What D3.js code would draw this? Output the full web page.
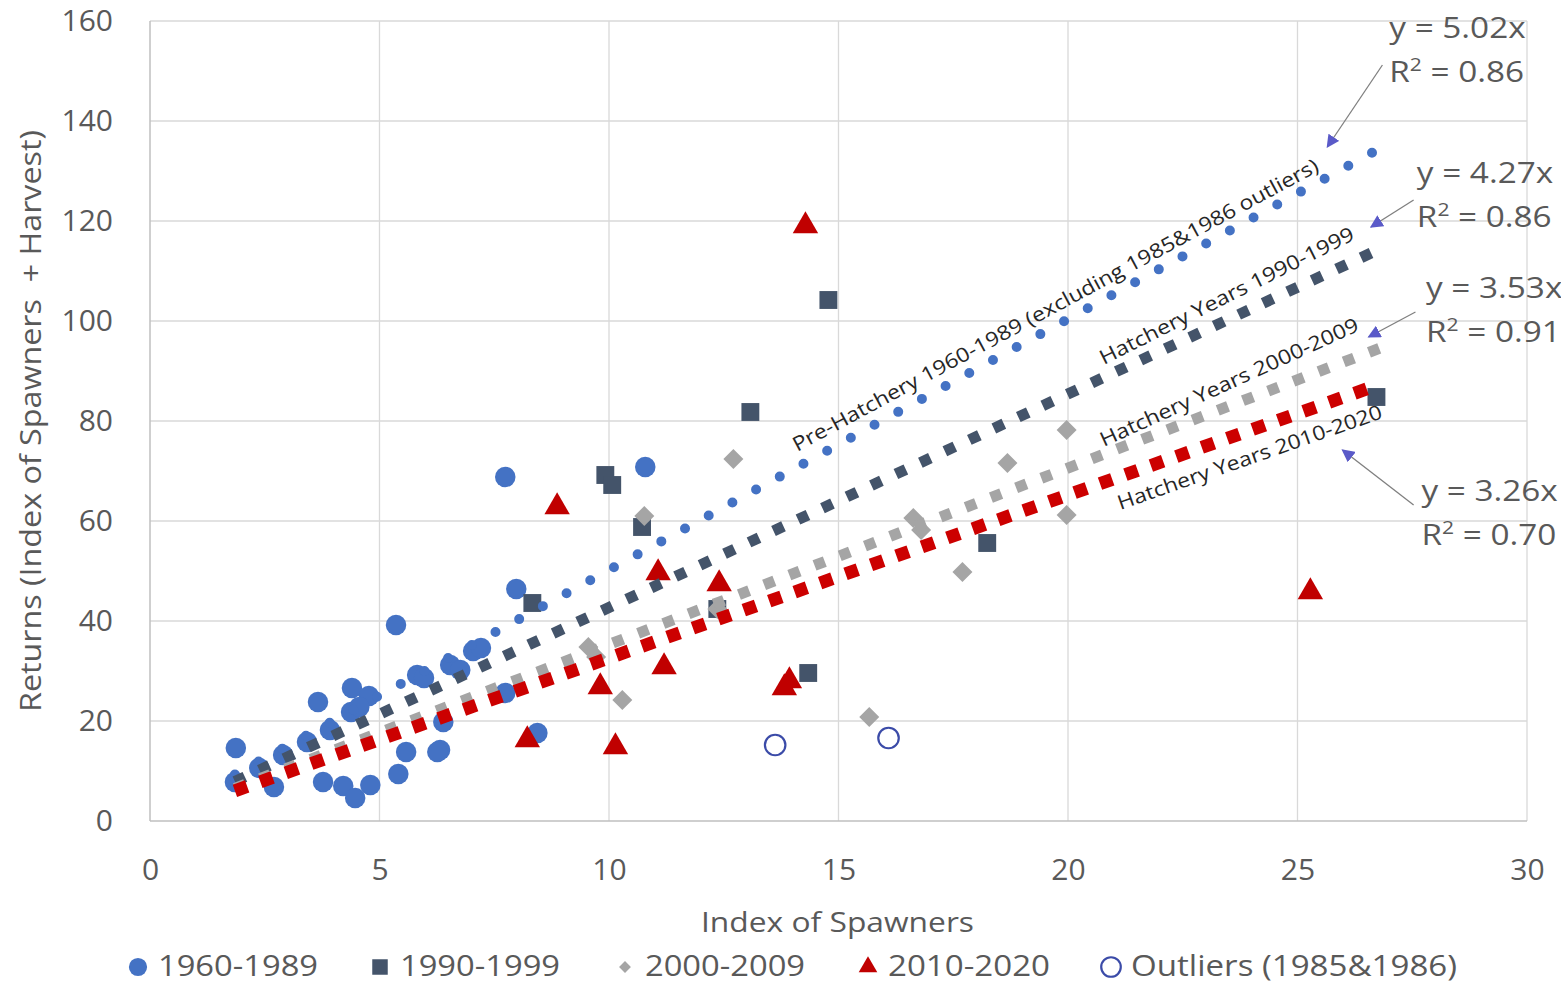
<!DOCTYPE html>
<html><head><meta charset="utf-8">
<script src="https://cdn.jsdelivr.net/npm/d3@7"></script>
<style>
html,body{margin:0;padding:0;background:#fff;}
text{font-family:"Open Sans",sans-serif;fill:#595959;}
</style></head>
<body>
<svg id="chart" width="1561" height="984"></svg>
<script>
// ---- data (x = Index of Spawners, y = Returns) ----
const seriesNames = ["1960-1989","1990-1999","2000-2009","2010-2020","Outliers (1985&1986)"];
const pre1960x = [7.74,10.79,7.98,7.04,7.21,6.54,6.76,7.74,8.44,6.32,6.39,3.66,1.87,1.85,2.38,2.70,2.90,3.42,3.77,5.36,4.40,4.77,4.38,4.56,3.92,5.82,5.97,5.58,6.26,5.41,4.21,4.47,4.80];
const pre1960y = [68.8,70.8,46.4,34.0,34.6,31.2,30.2,25.6,17.6,14.2,19.8,23.8,14.6,7.8,10.6,6.8,13.2,15.8,7.8,39.2,26.6,25.0,21.8,22.8,18.2,29.2,28.6,13.8,13.8,9.4,7.0,4.6,7.2];
const h1990x = [9.92,10.07,10.72,13.08,14.78,8.33,12.36,14.34,18.24,26.72];
const h1990y = [69.2,67.2,58.8,81.8,104.2,43.6,42.4,29.6,55.6,84.8];
const h2000x = [12.71,10.77,9.55,9.72,10.29,18.68,19.97,16.63,16.80,19.97,17.70,15.67,12.36];
const h2000y = [72.4,61.0,34.8,32.8,24.2,71.6,78.2,60.6,58.2,61.2,49.8,20.8,42.4];
const h2010x = [8.87,14.28,11.07,12.40,11.20,13.93,13.82,9.81,8.22,10.14,25.28];
const h2010y = [62.8,119.0,49.6,47.4,30.8,28.0,26.6,26.8,16.2,14.8,45.8];
const outlierX = [13.62,16.09];
const outlierY = [15.2,16.6];

// trendlines y = m x
const trendLabels = ["Pre-Hatchery 1960-1989 (excluding 1985&1986 outliers)","Hatchery Years 1990-1999","Hatchery Years 2000-2009","Hatchery Years 2010-2020"];
const trendSlopes = [5.02,4.27,3.53,3.26];
const trendR2 = ["0.86","0.86","0.91","0.70"];
const trendStart = [1.85,1.85,1.85,1.85];
const trendEnd = [27.0,26.9,27.0,26.7];

const xTicks = [0,5,10,15,20,25,30];
const yTicks = [0,20,40,60,80,100,120,140,160];
const xTitle = "Index of Spawners";
const yTitle = "Returns (Index of Spawners\u00a0\u00a0+ Harvest)";

// ---- styles ----
const colors = ["#4472C4","#44546A","#A5A5A5","#C00000","#3B4BA8"];

const svg = d3.select("#chart");
const x = d3.scaleLinear().domain([0,30]).range([150,1527]);
const y = d3.scaleLinear().domain([0,160]).range([821,21]);

// gridlines
const g = svg.append("g");
g.selectAll(".vg").data(xTicks.slice(1)).join("line")
  .attr("x1",d=>x(d)).attr("x2",d=>x(d)).attr("y1",y(0)).attr("y2",y(160))
  .attr("stroke","#d9d9d9").attr("stroke-width",1.3);
g.selectAll(".hg").data(yTicks.slice(1)).join("line")
  .attr("x1",x(0)).attr("x2",x(30)).attr("y1",d=>y(d)).attr("y2",d=>y(d))
  .attr("stroke","#d9d9d9").attr("stroke-width",1.3);
g.append("line").attr("x1",x(0)).attr("x2",x(0)).attr("y1",y(0)).attr("y2",y(160)).attr("stroke","#bfbfbf").attr("stroke-width",1.5);
g.append("line").attr("x1",x(0)).attr("x2",x(30)).attr("y1",y(0)).attr("y2",y(0)).attr("stroke","#bfbfbf").attr("stroke-width",1.5);

// axes (labels only)
const xAxis = d3.axisBottom(x).tickValues(xTicks).tickSize(0).tickPadding(38);
const yAxis = d3.axisLeft(y).tickValues(yTicks).tickSize(0).tickPadding(37);
const xa = svg.append("g").attr("transform",`translate(0,${y(0)})`).call(xAxis);
const ya = svg.append("g").attr("transform",`translate(${x(0)},0)`).call(yAxis);
[xa,ya].forEach(a=>{a.select(".domain").remove();
  a.selectAll("text").attr("font-family","Open Sans").attr("font-size",30).attr("fill","#595959");});

// axis titles
svg.append("text").attr("x",(x(0)+x(30))/2-1).attr("y",932).attr("text-anchor","middle")
  .attr("font-size",28).attr("textLength",273).attr("lengthAdjust","spacingAndGlyphs").text(xTitle);
svg.append("text").attr("transform",`translate(41,${(y(0)+y(160))/2+0})rotate(-90)`).attr("text-anchor","middle")
  .attr("font-size",29).attr("textLength",582).attr("lengthAdjust","spacingAndGlyphs").text(yTitle);

// markers
const sym = (type,size)=>d3.symbol().type(type).size(size)();
const mk = svg.append("g");
function drawPts(xs,ys,path,color,fill,rot){
  mk.append("g").selectAll("path").data(xs.map((v,i)=>[v,ys[i]])).join("path")
    .attr("transform",d=>`translate(${x(d[0])},${y(d[1])})rotate(${rot||0})`)
    .attr("d",path).attr("fill",fill?color:"#fff")
    .attr("stroke",fill?"none":color).attr("stroke-width",fill?0:2.2);
}
drawPts(pre1960x,pre1960y,sym(d3.symbolCircle,330),colors[0],true);
drawPts(h1990x,h1990y,sym(d3.symbolSquare,320),colors[1],true);
drawPts(h2000x,h2000y,sym(d3.symbolSquare,200),colors[2],true,45);
drawPts(h2010x,h2010y,sym(d3.symbolTriangle,280),colors[3],true);
drawPts(outlierX,outlierY,sym(d3.symbolCircle,330),colors[4],false);

// trendlines
const tl = svg.append("g");
const dashes = [
  {w:10,cap:"round",dash:"0 27"},
  {w:11,cap:"butt",dash:"11 16"},
  {w:11,cap:"butt",dash:"11 16"},
  {w:13,cap:"butt",dash:"13 14"}];
const trendColors = ["#4472C4","#44546A","#A5A5A5","#CC0000"];
trendSlopes.forEach((m,i)=>{
  tl.append("line").attr("x1",x(trendStart[i])).attr("y1",y(m*trendStart[i]))
    .attr("x2",x(trendEnd[i])).attr("y2",y(m*trendEnd[i]))
    .attr("stroke",trendColors[i]).attr("stroke-width",dashes[i].w)
    .attr("stroke-linecap",dashes[i].cap).attr("stroke-dasharray",dashes[i].dash);
});

// trend labels along lines (position in data units)
const labelPos = [[14.1,73.8,28.3,594],[20.78,91.2,26.6,282],[20.78,74.8,24.5,282],[21.14,62.2,19.3,279]];
labelPos.forEach((p,i)=>{
  svg.append("text").attr("transform",`translate(${x(p[0])},${y(p[1])})rotate(${-p[2]})`)
    .attr("font-size",20).style("fill","#262626")
    .attr("textLength",p[3]).attr("lengthAdjust","spacingAndGlyphs").text(trendLabels[i]);
});

// equation annotations
const eqPos = [[27.0,156.6],[27.6,127.6],[27.8,104.6],[27.7,64.0]]; // text left x, baseline of first line (data units)
const arrowFrom = [[26.85,151.2],[27.53,124.2],[27.57,101.8],[27.53,63.2]];
const arrowTo = [[25.65,134.8],[26.6,118.8],[26.55,96.8],[25.98,74.2]];
svg.append("defs").append("marker").attr("id","ah").attr("viewBox","0 0 10 10")
  .attr("refX",9).attr("refY",5).attr("markerWidth",13).attr("markerHeight",13)
  .attr("markerUnits","userSpaceOnUse").attr("orient","auto")
  .append("path").attr("d","M0,0L10,5L0,10z").attr("fill","#5A5AC8");
trendSlopes.forEach((m,i)=>{
  svg.append("line").attr("x1",x(arrowFrom[i][0])).attr("y1",y(arrowFrom[i][1]))
    .attr("x2",x(arrowTo[i][0])).attr("y2",y(arrowTo[i][1]))
    .attr("stroke","#7f7f7f").attr("stroke-width",1.3).attr("marker-end","url(#ah)");
  const ag = svg.append("g").attr("transform",`translate(${x(eqPos[i][0])},${y(eqPos[i][1])})scale(1.11,1)`);
  ag.append("text").attr("font-size",30).text(`y = ${m.toFixed(2)}x`);
  const t2 = ag.append("text").attr("y",44).attr("font-size",30);
  t2.append("tspan").text("R");
  t2.append("tspan").attr("font-size",19).attr("dy",-11).text("2");
  t2.append("tspan").attr("dy",11).text(` = ${trendR2[i]}`);
});

// legend
const legendX = [138,380,625,868,1111];
const legendW = [160,160,160,162,326];
const legendSyms = [sym(d3.symbolCircle,260),sym(d3.symbolSquare,240),sym(d3.symbolSquare,70),sym(d3.symbolTriangle,150),sym(d3.symbolCircle,300)];
const lg = svg.append("g");
seriesNames.forEach((n,i)=>{
  lg.append("path").attr("transform",`translate(${legendX[i]},967)rotate(${i===2?45:0})`).attr("d",legendSyms[i])
    .attr("fill",i===4?"#fff":colors[i]).attr("stroke",i===4?colors[4]:"none").attr("stroke-width",2.2);
  lg.append("text").attr("x",legendX[i]+20).attr("y",976).attr("font-size",29)
    .attr("textLength",legendW[i]).attr("lengthAdjust","spacingAndGlyphs").text(n);
});
</script>
</body></html>
